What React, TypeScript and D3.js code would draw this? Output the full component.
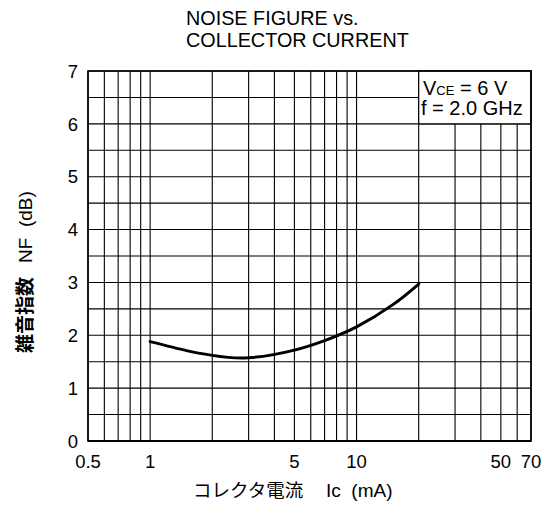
import React from "react";
import * as d3 from "d3";

const currentMA = [1, 1.5, 2, 3, 5, 7, 10, 15, 20];
const noiseFigureDB = [1.88, 1.71, 1.62, 1.575, 1.72, 1.9, 2.16, 2.58, 2.97];
const xTickLabels = [0.5, 1, 5, 10, 50, 70];
const yTickLabels = [0, 1, 2, 3, 4, 5, 6, 7];
const xGrid = [0.5, 0.6, 0.7, 0.8, 0.9, 1, 2, 3, 4, 5, 6, 7, 8, 9, 10, 20, 30, 40, 50, 60, 70];
const yGrid = [0, 0.5, 1, 1.5, 2, 2.5, 3, 3.5, 4, 4.5, 5, 5.5, 6, 6.5, 7];
const titleLines = ["NOISE FIGURE vs.", "COLLECTOR CURRENT"];
const xTitleCJK = "コレクタ電流";
const xTitleUnit = "Ic  (mA)";
const yTitleCJK = "雑音指数";
const yTitleUnit = "NF  (dB)";

const W = 546, H = 516;
const L = 88, R = 531, T = 71, B = 441;
const FONT = "'Liberation Sans', Arial, Helvetica, sans-serif";
const CJK = "'Noto Sans CJK JP', 'Liberation Sans', sans-serif";

export default function App() {
  const x = d3.scaleLog().domain([0.5, 70]).range([L, R]);
  const y = d3.scaleLinear().domain([0, 7]).range([B, T]);
  const line = d3
    .line<number>()
    .x((_, i) => x(currentMA[i]))
    .y((d) => y(d))
    .curve(d3.curveNatural);

  const legX0 = x(20), legY1 = y(6);

  return (
    <svg width={W} height={H} style={{ position: "absolute", left: 0, top: 0, background: "#fff" }}>
      <rect width={W} height={H} fill="#fff" />
      {titleLines.map((t, i) => (
        <text key={t} x={186} y={25 + i * 22} fontFamily={FONT} fontSize={19.8} fill="#000">
          {t}
        </text>
      ))}
      {xGrid.map((v) => (
        <line key={"gx" + v} x1={x(v)} x2={x(v)} y1={T} y2={B} stroke="#000" strokeWidth={1.1} />
      ))}
      {yGrid.map((v) => (
        <line key={"gy" + v} x1={L} x2={R} y1={y(v)} y2={y(v)} stroke="#000" strokeWidth={1.1} />
      ))}
      <rect x={legX0} y={T} width={R - legX0} height={legY1 - T} fill="#fff" stroke="#000" strokeWidth={1.2} />
      <text x={423} y={95} fontFamily={FONT} fontSize={20} fill="#000">
        V<tspan fontSize={13}>CE</tspan> = 6 V
      </text>
      <text x={421} y={115} fontFamily={FONT} fontSize={20} fill="#000">
        f = 2.0 GHz
      </text>
      <rect x={L} y={T} width={R - L} height={B - T} fill="none" stroke="#000" strokeWidth={1.6} />
      <line x1={L} x2={R} y1={B} y2={B} stroke="#000" strokeWidth={2.2} />
      <path d={line(noiseFigureDB) || ""} fill="none" stroke="#000" strokeWidth={3} strokeLinecap="round" />
      {yTickLabels.map((v) => (
        <text key={"yt" + v} x={78} y={y(v)} dy="0.36em" textAnchor="end" fontFamily={FONT} fontSize={18.5} fill="#000">
          {v}
        </text>
      ))}
      {xTickLabels.map((v) => (
        <text key={"xt" + v} x={x(v)} y={468} textAnchor="middle" fontFamily={FONT} fontSize={18.5} fill="#000">
          {v}
        </text>
      ))}
      <text x={193} y={497} fontFamily={CJK} fontSize={18.5} fontWeight={400} fill="#000" style={{ whiteSpace: "pre" }}>
        {xTitleCJK}
        <tspan x={326} fontFamily={FONT} fontSize={19}>{xTitleUnit}</tspan>
      </text>
      <text
        transform={`translate(32,353) rotate(-90)`}
        fontFamily={CJK}
        fontSize={19}
        fontWeight={700}
        fill="#000"
        style={{ whiteSpace: "pre" }}
      >
        {yTitleCJK}
        <tspan dx={14} fontFamily={FONT} fontWeight={400}>{yTitleUnit}</tspan>
      </text>
    </svg>
  );
}
